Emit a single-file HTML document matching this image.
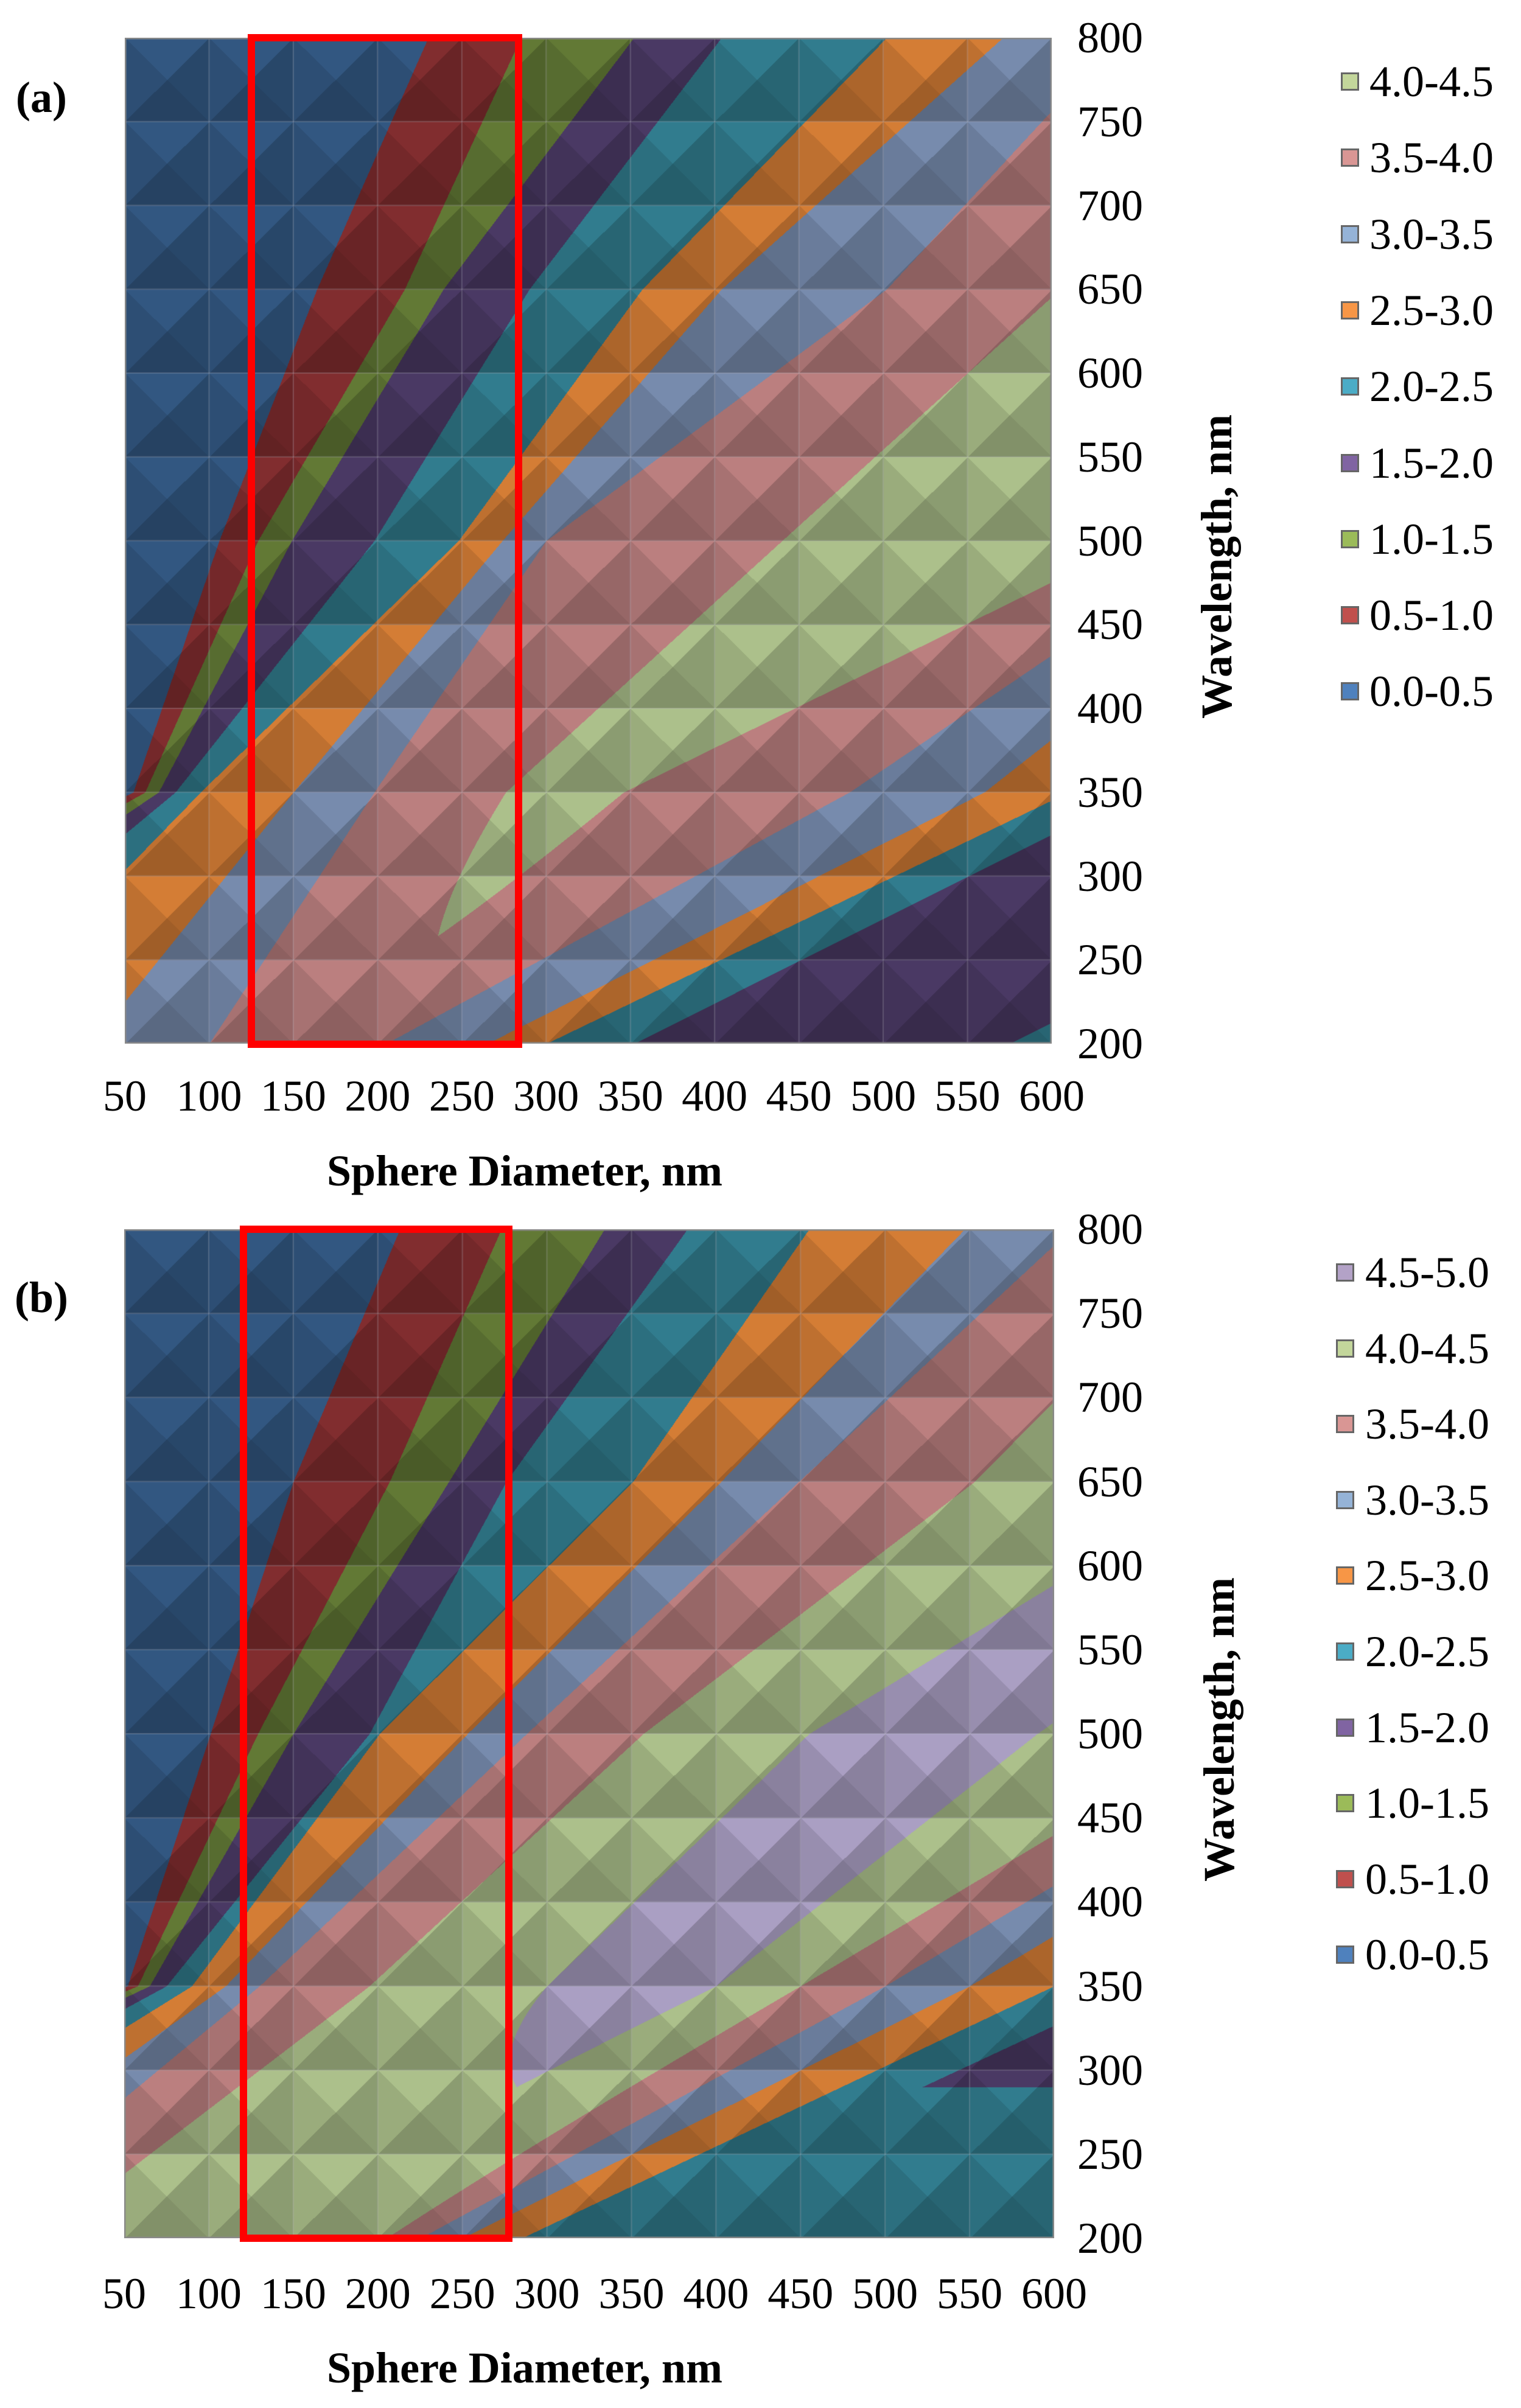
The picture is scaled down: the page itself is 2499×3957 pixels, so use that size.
<!DOCTYPE html>
<html><head><meta charset="utf-8">
<style>
html,body{margin:0;padding:0;background:#fff;}
body{width:2499px;height:3957px;position:relative;overflow:hidden;font-family:"Liberation Serif",serif;color:#000;}
canvas{position:absolute;}
.t{position:absolute;font-size:72px;line-height:1;white-space:nowrap;}
.b{font-weight:bold;}
.red{position:absolute;border:12px solid #ff0000;box-sizing:border-box;}
.sw{position:absolute;width:30px;height:30px;box-sizing:border-box;border:3px solid #666;}
</style></head><body>
<canvas id="ca" width="1523" height="1653" style="left:205px;top:62px"></canvas>
<canvas id="cb" width="1528" height="1658" style="left:204px;top:2020px"></canvas>
<div class="red" style="left:407px;top:56px;width:451px;height:1666px"></div>
<div class="red" style="left:394px;top:2014px;width:448px;height:1670px"></div>
<div id="labels"></div>
<script>
var L=document.getElementById('labels');
function txt(s,x,y,cls,anchor){var d=document.createElement('div');d.className='t '+(cls||'');d.textContent=s;L.appendChild(d);
 var w=d.offsetWidth,h=d.offsetHeight; var ax=anchor==='l'?0:(anchor==='r'?w:w/2); d.style.left=(x-ax)+'px';d.style.top=(y-h/2)+'px';return d;}
function axes(x0,y0,W,H,xlabY,titleY,wlX,wlY,tag,tagY){
 for(var i=0;i<=11;i++){txt(String(50+i*50),x0+i*W/11,xlabY);}
 for(var j=0;j<=12;j++){txt(String(800-j*50),1770,y0+j*H/12,'','l');}
 txt('Sphere Diameter, nm',862,titleY,'b');
 var d=txt('Wavelength, nm',wlX,wlY,'b');d.style.transform='rotate(-90deg)';
 txt(tag,68,tagY,'b');
}
axes(205,62,1523,1653,1801,1924,1999,931,'(a)',160);
axes(204,2020,1528,1658,3769,3891,2003,2842,'(b)',2132);
var legC={'4.5-5.0':'#b3a2c7','4.0-4.5':'#c3d69b','3.5-4.0':'#d99694','3.0-3.5':'#95b3d7','2.5-3.0':'#f79646','2.0-2.5':'#4bacc6','1.5-2.0':'#8064a2','1.0-1.5':'#9bbb59','0.5-1.0':'#c0504d','0.0-0.5':'#4f81bd'};
function legend(items,sx,tx,y0,dy){items.forEach(function(k,i){var y=y0+i*dy;var s=document.createElement('div');s.className='sw';s.style.left=sx+'px';s.style.top=(y-15)+'px';s.style.background=legC[k];L.appendChild(s);txt(k,tx,y,'','l');});}
legend(['4.0-4.5','3.5-4.0','3.0-3.5','2.5-3.0','2.0-2.5','1.5-2.0','1.0-1.5','0.5-1.0','0.0-0.5'],2203,2250,134,125.3);
legend(['4.5-5.0','4.0-4.5','3.5-4.0','3.0-3.5','2.5-3.0','2.0-2.5','1.5-2.0','1.0-1.5','0.5-1.0','0.0-0.5'],2195,2243,2091,124.6);

var base=[[47,82,122],[122,42,44],[92,114,50],[70,54,94],[46,117,134],[200,118,50],[112,131,163],[176,120,120],[162,181,131],[160,150,184]];
var SA=[0,.5,1,1.5,2,2.5,3,3.5,4,4.4,4,3.5,3,2.5,2,1.5,1.5];
var A=[
 [800,[-100,230,285,352,404,502,571,640,720,850,1000,1050,1100,1150,1200,1250,1300],SA],
 [650,[-100,164,216,239,290,357,404,502,605,750,900,950,1000,1050,1100,1150,1200],SA],
 [500,[-100,106,129,149,198,248,274,300,440,520,650,700,750,800,850,900,950],SA],
 [350,[-100,55,62,70,80,95,150,198,276,310,346,480,560,610,650,700,750],SA],
 [200,[-300,-250,-200,-150,-100,-50,30,100,150,180,200,205,265,300,352,450,600],[0,.5,1,1.5,2,2.5,3,3.5,3.6,3.7,3.6,3.5,3,2.5,2,1.5,2.1]]
];
var SB=[0,.5,1,1.5,2,2.5,3,3.5,4,4.5,4.7,4.5,4,3.5,3,2.5,2,1.8];
var B=[
 [800,[-100,213,273,334,383,455,547,610,700,800,850,900,1000,1050,1100,1150,1200,1250],SB],
 [650,[-100,150,207,242,276,351,403,449,553,700,750,800,850,900,950,1000,1050,1100],SB],
 [500,[-100,101,129,150,195,201,253,288,357,455,520,590,700,750,800,850,900,950],SB],
 [350,[-100,52,58,65,75,90,110,130,195,300,350,400,450,500,550,600,650,700],SB],
 [200,[-400,-350,-300,-250,-200,-150,-100,-50,0,100,180,200,215,225,250,285,330,600],[0,.5,1,1.5,2,2.5,3,3.5,4,4.2,4.2,4.1,3.8,3.5,3,2.5,2,2.3]]
];
function rowKnots(M,lam){
 var i=0;while(i<M.length-2&&lam<M[i+1][0])i++;
 var a=M[i],b=M[i+1];var t=(a[0]-lam)/(a[0]-b[0]);
 var D=[],V=[];for(var k=0;k<a[1].length;k++){D.push(a[1][k]+(b[1][k]-a[1][k])*t);V.push(a[2][k]+(b[2][k]-a[2][k])*t);}
 return [D,V];
}
function evalK(D,V,x){if(x<=D[0])return V[0];for(var i=1;i<D.length;i++){if(x<=D[i]){var w=D[i]-D[i-1];return w<=0?V[i]:V[i-1]+(V[i]-V[i-1])*(x-D[i-1])/w;}}return V[V.length-1];}
function draw(id,M){
 var c=document.getElementById(id),W=c.width,H=c.height,ctx=c.getContext('2d');
 var img=ctx.createImageData(W,H),d=img.data;
 for(var py=0;py<H;py++){var lam=800-py/H*600;var cyf=(800-lam)/50;var fy=cyf-Math.floor(cyf)-0.5;
  var rk=rowKnots(M,lam),KD=rk[0],KV=rk[1];
  for(var px=0;px<W;px++){var Dm=50+px/W*550;
   var v=evalK(KD,KV,Dm);
   var bi=Math.max(0,Math.min(9,Math.floor(v/0.5)));
   var cxf=(Dm-50)/50;var fx=cxf-Math.floor(cxf)-0.5;
   var f;if(Math.abs(fy)>Math.abs(fx)){f=fy<0?1.06:0.8;}else{f=fx<0?0.95:0.86;}
   var col=base[bi],o=(py*W+px)*4;
   d[o]=Math.min(255,col[0]*f);d[o+1]=Math.min(255,col[1]*f);d[o+2]=Math.min(255,col[2]*f);d[o+3]=255;}}
 ctx.putImageData(img,0,0);
 ctx.strokeStyle='rgba(200,200,210,0.25)';ctx.lineWidth=2;
 for(var i=0;i<=11;i++){var x=i*W/11;ctx.beginPath();ctx.moveTo(x,0);ctx.lineTo(x,H);ctx.stroke();}
 for(var j=0;j<=12;j++){var y=j*H/12;ctx.beginPath();ctx.moveTo(0,y);ctx.lineTo(W,y);ctx.stroke();}
 ctx.strokeStyle='#8a8a8a';ctx.lineWidth=3;ctx.strokeRect(1,1,W-2,H-2);
}
draw('ca',A);draw('cb',B);
</script>
</body></html>
